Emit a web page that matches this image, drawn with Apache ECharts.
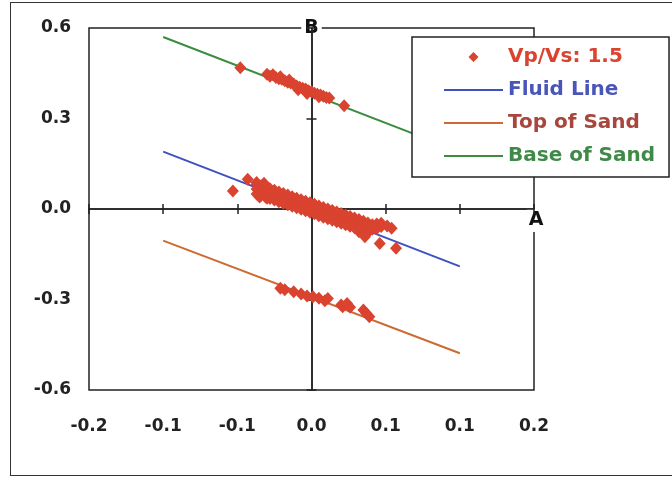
<!DOCTYPE html>
<html><head><meta charset="utf-8">
<script src="https://cdn.jsdelivr.net/npm/echarts@6/dist/echarts.min.js"></script>
<style>
html,body{margin:0;padding:0;background:#fff;}
#frame{position:absolute;left:10px;top:2px;width:700px;height:474px;border:1.5px solid #333;box-sizing:border-box;}
#c{position:absolute;left:0;top:0;width:672px;height:477px;}
</style></head>
<body><div id="frame"></div><div id="c"></div>
<script>
// ---- tick labels (as printed in the original, rounded to one decimal) ----
const xTickLabels = ['-0.2','-0.1','-0.1','0.0','0.1','0.1','0.2'];
const yTickLabels = ['-0.6','-0.3','0.0','0.3','0.6'];
const xRange = [-0.15, 0.15, 0.05];
const yRange = [-0.6, 0.6, 0.3];

// ---- reference lines (x at the two ends, y at the two ends) ----
const lineX = [-0.1, 0.1];
const fluidLineY = [0.19, -0.19];
const topSandLineY = [-0.105, -0.478];
const baseSandLineY = [0.57, 0.19];

// ---- Vp/Vs: 1.5 points ----
const baseSandPts = [
  [-0.048,0.468],[-0.030,0.447],[-0.028,0.440],[-0.026,0.445],[-0.024,0.436],[-0.022,0.432],
  [-0.021,0.438],[-0.020,0.430],[-0.018,0.425],[-0.016,0.420],[-0.015,0.428],[-0.014,0.418],
  [-0.012,0.414],[-0.010,0.408],[-0.009,0.395],[-0.008,0.404],[-0.006,0.400],[-0.004,0.398],
  [-0.003,0.383],[-0.002,0.392],[0.000,0.389],[0.002,0.384],[0.004,0.380],[0.005,0.372],
  [0.006,0.378],[0.008,0.374],[0.010,0.370],[0.012,0.368],[0.022,0.342]
];
const fluidPts = [
  [-0.053,0.060],[-0.043,0.099],
  [-0.037,0.088],[-0.035,0.040],[-0.032,0.085],[-0.030,0.036],
  [-0.037,0.082],[-0.037,0.066],[-0.037,0.050],
  [-0.034,0.077],[-0.034,0.061],[-0.034,0.045],
  [-0.031,0.072],[-0.031,0.056],[-0.031,0.040],
  [-0.028,0.067],[-0.028,0.051],[-0.028,0.035],
  [-0.025,0.062],[-0.025,0.046],[-0.025,0.030],
  [-0.022,0.056],[-0.022,0.040],[-0.022,0.024],
  [-0.019,0.051],[-0.019,0.035],[-0.019,0.019],
  [-0.016,0.046],[-0.016,0.030],[-0.016,0.014],
  [-0.013,0.041],[-0.013,0.025],[-0.013,0.009],
  [-0.010,0.036],[-0.010,0.020],[-0.010,0.004],
  [-0.007,0.031],[-0.007,0.015],[-0.007,-0.001],
  [-0.004,0.026],[-0.004,0.010],[-0.004,-0.006],
  [-0.001,0.021],[-0.001,0.005],[-0.001,-0.011],
  [0.002,0.016],[0.002,0.000],[0.002,-0.016],
  [0.005,0.010],[0.005,-0.006],[0.005,-0.022],
  [0.008,0.005],[0.008,-0.011],[0.008,-0.027],
  [0.011,0.000],[0.011,-0.016],[0.011,-0.032],
  [0.014,-0.005],[0.014,-0.021],[0.014,-0.037],
  [0.017,-0.010],[0.017,-0.026],[0.017,-0.042],
  [0.020,-0.015],[0.020,-0.031],[0.020,-0.047],
  [0.023,-0.020],[0.023,-0.036],[0.023,-0.052],
  [0.026,-0.025],[0.026,-0.041],[0.026,-0.057],
  [0.029,-0.030],[0.029,-0.046],[0.029,-0.062],
  [0.032,-0.035],[0.032,-0.051],[0.032,-0.067],[0.032,-0.075],
  [0.035,-0.041],[0.035,-0.057],[0.035,-0.073],
  [0.038,-0.046],[0.038,-0.062],[0.038,-0.078],
  [0.041,-0.052],[0.041,-0.067],
  [0.044,-0.050],[0.044,-0.065],
  [0.047,-0.047],[0.047,-0.058],
  [0.051,-0.056],[0.054,-0.064],
  [0.036,-0.092],[0.046,-0.114],[0.057,-0.130]
];
const topSandPts = [
  [-0.021,-0.263],[-0.018,-0.268],[-0.012,-0.274],[-0.007,-0.282],[-0.003,-0.288],
  [0.001,-0.291],[0.005,-0.296],[0.009,-0.304],[0.011,-0.297],[0.020,-0.318],
  [0.021,-0.324],[0.024,-0.313],[0.026,-0.326],[0.035,-0.335],[0.037,-0.346],[0.039,-0.357]
];

const seriesNames = ['Vp/Vs: 1.5','Fluid Line','Top of Sand','Base of Sand'];

const FONT = '"DejaVu Sans", Arial, sans-serif';
const lbl = (arr, r) => (v) => arr[Math.round((v - r[0]) / r[2])] || '';
const pairs = (xs, ys) => xs.map((x, i) => [x, ys[i]]);
const LINE_ICON = 'path://M0,0M59,14M0,6L59,6L59,8L0,8Z';

const axisLineStyle = {color:'#222', width:1.5};
const labelStyle = {color:'#222', fontFamily:FONT, fontWeight:'bold', fontSize:17};
const nameStyle = {fontFamily:FONT, fontWeight:'bold', fontSize:19, color:'#111', backgroundColor:'#fff'};

// a label-only axis at the frame edge, and two tick-only axes crossing at zero
function labelAxis(range, labels, pos, margin) {
  return {type:'value', min:range[0], max:range[1], interval:range[2], position:pos,
    axisLine:{show:false, onZero:false}, axisTick:{show:false}, splitLine:{show:false},
    axisLabel:Object.assign({margin:margin, formatter:lbl(labels, range)}, labelStyle)};
}
function zeroAxis(range, pos, extra) {
  return Object.assign({type:'value', min:range[0], max:range[1], interval:range[2], position:pos,
    axisLine:{show:true, onZero:true, onZeroAxisIndex:1, lineStyle:axisLineStyle},
    axisTick:{show:true, inside:false, length:5, lineStyle:axisLineStyle},
    axisLabel:{show:false}, splitLine:{show:false}}, extra || {});
}

const chart = echarts.init(document.getElementById('c'), null, {renderer:'canvas'});
chart.setOption({
  animation:false,
  backgroundColor:'transparent',
  grid:{left:89, right:138, top:28, bottom:87, containLabel:false, outerBoundsMode:'none',
        show:true, borderColor:'#222', borderWidth:1.5, backgroundColor:'#fff'},
  legend:{
    orient:'vertical', left:412, top:37,
    padding:[9,14,10,32], itemGap:11, itemWidth:59, itemHeight:14,
    backgroundColor:'#fff', borderColor:'#222', borderWidth:1.5, borderRadius:0,
    textStyle:{fontFamily:FONT, fontWeight:'bold', fontSize:20, lineHeight:22},
    data:[
      {name:seriesNames[0], icon:'path://M0,0M14,14M7,2L12,7L7,12L2,7Z', textStyle:{color:'#d9432f'}},
      {name:seriesNames[1], icon:LINE_ICON, textStyle:{color:'#4a55b8'}},
      {name:seriesNames[2], icon:LINE_ICON, textStyle:{color:'#a8453c'}},
      {name:seriesNames[3], icon:LINE_ICON, textStyle:{color:'#3f8a48'}}
    ]
  },
  xAxis:[
    labelAxis(xRange, xTickLabels, 'bottom', 28),
    zeroAxis(xRange, 'top'),
    zeroAxis(xRange, 'bottom', {name:'A', nameLocation:'end', nameGap:2,
      nameTextStyle:Object.assign({align:'center', verticalAlign:'top', padding:[2,2,2,2]}, nameStyle)})
  ],
  yAxis:[
    labelAxis(yRange, yTickLabels, 'left', 18),
    zeroAxis(yRange, 'right', {name:'B', nameLocation:'end', nameGap:0,
      nameTextStyle:Object.assign({align:'center', verticalAlign:'middle', padding:[1,3,1,3]}, nameStyle)}),
    zeroAxis(yRange, 'left')
  ],
  series:[
    {name:seriesNames[1], type:'line', symbol:'none', data:pairs(lineX, fluidLineY),
     lineStyle:{color:'#3f50c2', width:2}, itemStyle:{color:'#3f50c2'}, z:2},
    {name:seriesNames[2], type:'line', symbol:'none', data:pairs(lineX, topSandLineY),
     lineStyle:{color:'#cc6a32', width:2}, itemStyle:{color:'#cc6a32'}, z:2},
    {name:seriesNames[3], type:'line', symbol:'none', data:pairs(lineX, baseSandLineY),
     lineStyle:{color:'#3b8c3f', width:2}, itemStyle:{color:'#3b8c3f'}, z:2},
    {name:seriesNames[0], type:'scatter', symbol:'diamond', symbolSize:[12,13],
     data:baseSandPts.concat(fluidPts, topSandPts),
     itemStyle:{color:'#d9432f', opacity:1}, z:3}
  ]
});
</script></body></html>
